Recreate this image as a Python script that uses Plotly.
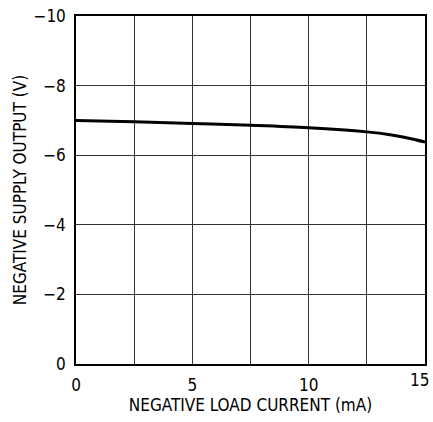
import plotly.graph_objects as go

current_ma = [0, 2.5, 5, 7.5, 10, 12.5, 13.5, 14, 14.5, 15]
output_v = [-7.0, -6.96, -6.91, -6.86, -6.79, -6.67, -6.59, -6.53, -6.46, -6.38]

x_grid = [0, 2.5, 5, 7.5, 10, 12.5, 15]
x_labels = ["0", "", "5", "", "10", "", "15"]
y_ticks = [0, -2, -4, -6, -8, -10]
y_labels = ["0", "\u22122", "\u22124", "\u22126", "\u22128", "\u221210"]

font_family = "DejaVu Sans Condensed, Liberation Sans Narrow, Arial Narrow, sans-serif"
tick_size = 17

fig = go.Figure()
fig.add_trace(go.Scatter(x=current_ma, y=output_v, mode="lines",
                         line=dict(color="black", width=3, shape="spline"),
                         showlegend=False, hoverinfo="skip"))

# last x label would overflow the page edge; draw it right-aligned at the axis end
fig.add_annotation(x=x_grid[-1], xref="x", y=0, yref="paper",
                   text=x_labels[-1], showarrow=False,
                   xanchor="right", yanchor="top", xshift=6, yshift=-4,
                   font=dict(size=tick_size))

fig.update_layout(
    width=433, height=422,
    margin=dict(l=76, r=6, t=12, b=58),
    paper_bgcolor="white", plot_bgcolor="white",
    font=dict(family=font_family, size=tick_size, color="black"),
)
fig.update_xaxes(
    range=[0, 15], tickvals=x_grid, ticktext=x_labels[:-1] + [""],
    showgrid=True, gridcolor="#333333", gridwidth=1,
    showline=True, linecolor="black", linewidth=1.5, mirror=True,
    zeroline=False, ticks="", tickfont=dict(size=tick_size),
    ticklabelstandoff=5,
    title=dict(text="NEGATIVE LOAD CURRENT (mA)", font=dict(size=17), standoff=5),
)
fig.update_yaxes(
    range=[0, -10], tickvals=y_ticks, ticktext=y_labels,
    showgrid=True, gridcolor="#333333", gridwidth=1,
    showline=True, linecolor="black", linewidth=1.5, mirror=True,
    zeroline=False, ticks="", tickfont=dict(size=tick_size),
    ticklabelstandoff=5,
    title=dict(text="NEGATIVE SUPPLY OUTPUT (V)", font=dict(size=17), standoff=3),
)

fig.write_html("out.html", config={"displayModeBar": False},
               post_script="document.body.style.margin='0';")
